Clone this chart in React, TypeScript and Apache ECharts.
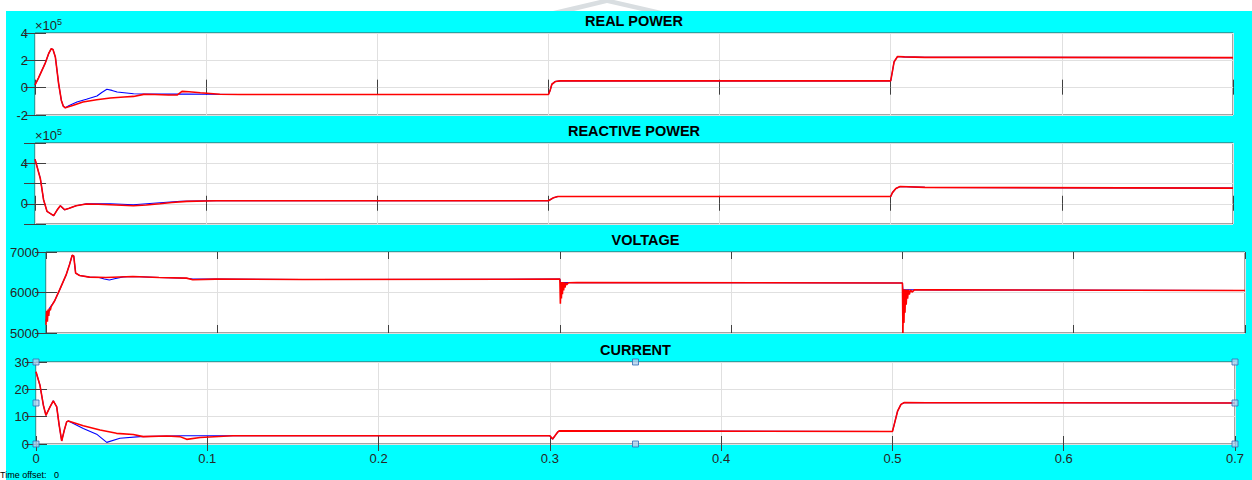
import React, { useEffect, useRef } from "react";
import * as echarts from "echarts";

// ---------- DATA ----------
const titles = ["REAL POWER", "REACTIVE POWER", "VOLTAGE", "CURRENT"];
const timeMin = 0;
const timeMax = 0.7;
const timeStep = 0.1;

// Real power, in units of 1e5 W
const realPowerRed: [number, number][] = [
  [0, 0.2], [0.002, 0.7], [0.004, 1.25], [0.006, 1.8], [0.008, 2.5], [0.0095, 2.85], [0.0105, 2.8],
  [0.0119, 2.24], [0.0138, 0.3], [0.0154, -0.93], [0.0165, -1.35], [0.0177, -1.47], [0.022, -1.3],
  [0.028, -1.05], [0.036, -0.88], [0.044, -0.76], [0.052, -0.68], [0.0576, -0.64], [0.0635, -0.49],
  [0.07, -0.5], [0.078, -0.54], [0.083, -0.54], [0.0859, -0.27], [0.09, -0.3], [0.0966, -0.37],
  [0.108, -0.48], [0.12, -0.5], [0.3, -0.5], [0.301, -0.2], [0.302, 0.25], [0.304, 0.45],
  [0.307, 0.5], [0.5, 0.5], [0.501, 1.2], [0.502, 1.9], [0.504, 2.28], [0.508, 2.25], [0.52, 2.22],
  [0.7, 2.2],
];
const realPowerBlue: [number, number][] = [
  [0, 0.2], [0.002, 0.7], [0.004, 1.25], [0.006, 1.8], [0.008, 2.5], [0.0095, 2.85], [0.0105, 2.8],
  [0.0119, 2.24], [0.0138, 0.3], [0.0154, -0.93], [0.0165, -1.35], [0.0177, -1.47], [0.02, -1.3],
  [0.0245, -1.05], [0.03, -0.85], [0.0362, -0.61], [0.039, -0.35], [0.042, -0.12], [0.045, -0.2],
  [0.048, -0.32], [0.0576, -0.44], [0.07, -0.47], [0.09, -0.47], [0.1, -0.48], [0.12, -0.5],
  [0.3, -0.5], [0.301, -0.2], [0.302, 0.25], [0.304, 0.45], [0.307, 0.5], [0.5, 0.5], [0.501, 1.2],
  [0.502, 1.9], [0.504, 2.28], [0.508, 2.25], [0.52, 2.22], [0.7, 2.2],
];

// Reactive power, in units of 1e5 var
const reactivePowerRed: [number, number][] = [
  [0, 4.4], [0.0031, 2.5], [0.005, 0.4], [0.007, -0.75], [0.0109, -1.18], [0.013, -0.6],
  [0.0148, -0.2], [0.0173, -0.59], [0.02, -0.45], [0.024, -0.2], [0.03, -0.03], [0.037, -0.05],
  [0.044, -0.1], [0.0575, -0.2], [0.065, -0.12], [0.073, 0.0], [0.08, 0.12], [0.0887, 0.23],
  [0.106, 0.3], [0.3, 0.3], [0.301, 0.4], [0.303, 0.6], [0.3055, 0.72], [0.5, 0.72], [0.501, 1.1],
  [0.503, 1.5], [0.5055, 1.7], [0.52, 1.62], [0.7, 1.54],
];
const reactivePowerBlue: [number, number][] = [
  [0, 4.4], [0.0031, 2.5], [0.005, 0.4], [0.007, -0.75], [0.0109, -1.18], [0.013, -0.6],
  [0.0148, -0.2], [0.0173, -0.59], [0.02, -0.45], [0.024, -0.2], [0.03, 0.0], [0.044, 0.0],
  [0.0575, -0.1], [0.073, 0.1], [0.085, 0.25], [0.1, 0.3], [0.3, 0.3], [0.301, 0.4], [0.303, 0.6],
  [0.3055, 0.72], [0.5, 0.72], [0.501, 1.1], [0.503, 1.5], [0.5055, 1.7], [0.52, 1.62], [0.7, 1.54],
];

// Voltage, V
const voltageRed: [number, number][] = [
  [0, 5200], [0.0004, 5550], [0.0008, 5280], [0.0012, 5580], [0.0016, 5420], [0.002, 5610],
  [0.0025, 5560], [0.003, 5650], [0.005, 5790], [0.008, 6070], [0.0118, 6440], [0.0138, 6700],
  [0.0153, 6920], [0.0162, 6900], [0.0173, 6480], [0.0196, 6420], [0.0254, 6380], [0.035, 6370],
  [0.0507, 6395], [0.066, 6370], [0.082, 6355], [0.0857, 6315], [0.099, 6330], [0.15, 6320],
  [0.3, 6330], [0.3003, 5720], [0.3006, 6260], [0.3009, 5850], [0.3012, 6260], [0.3015, 5960],
  [0.3018, 6255], [0.3022, 6050], [0.3026, 6250], [0.303, 6120], [0.3035, 6245], [0.304, 6190],
  [0.305, 6240], [0.31, 6245], [0.5, 6235], [0.5003, 5000], [0.5006, 6080], [0.5009, 5250],
  [0.5012, 6080], [0.5015, 5500], [0.5018, 6075], [0.5022, 5700], [0.5026, 6070], [0.503, 5850],
  [0.5035, 6070], [0.504, 5950], [0.5048, 6065], [0.5056, 6010], [0.507, 6065], [0.52, 6065],
  [0.7, 6050],
];
const voltageBlue: [number, number][] = [
  [0, 5300], [0.002, 5610], [0.005, 5790], [0.008, 6070], [0.0118, 6440], [0.0138, 6700],
  [0.0153, 6920], [0.0162, 6900], [0.0173, 6480], [0.0196, 6420], [0.0254, 6380], [0.031, 6370],
  [0.034, 6335], [0.037, 6310], [0.04, 6340], [0.045, 6385], [0.0507, 6395], [0.066, 6370],
  [0.082, 6350], [0.0857, 6335], [0.099, 6330], [0.15, 6320], [0.3, 6330], [0.3003, 6250],
  [0.31, 6245], [0.5, 6235], [0.5003, 6070], [0.52, 6065], [0.7, 6050],
];

// Current, A
const currentRed: [number, number][] = [
  [0, 26.4], [0.0023, 21.5], [0.0043, 14.2], [0.0058, 10.5], [0.0082, 13.6], [0.0101, 15.8],
  [0.0121, 13.6], [0.0135, 7], [0.015, 1.1], [0.0165, 5], [0.0179, 8.1], [0.0189, 8.4],
  [0.0276, 6.7], [0.0374, 5.1], [0.047, 3.9], [0.0568, 3.5], [0.0626, 2.7], [0.0763, 2.9],
  [0.084, 2.7], [0.088, 1.7], [0.0958, 2.4], [0.115, 3.0], [0.3, 3.0], [0.3016, 1.8], [0.303, 3.0],
  [0.3045, 4.3], [0.3055, 4.8], [0.5, 4.6], [0.501, 7], [0.503, 12], [0.505, 14.5], [0.507, 15.2],
  [0.52, 15.1], [0.7, 15.0],
];
const currentBlue: [number, number][] = [
  [0, 26.4], [0.0023, 21.5], [0.0043, 14.2], [0.0058, 10.5], [0.0082, 13.6], [0.0101, 15.8],
  [0.0121, 13.6], [0.0135, 7], [0.015, 1.1], [0.0165, 5], [0.0179, 8.1], [0.0189, 8.4],
  [0.0276, 5.7], [0.0354, 3.6], [0.0413, 0.6], [0.049, 2.1], [0.0607, 2.7], [0.086, 3.0],
  [0.1, 3.0], [0.115, 3.0], [0.3, 3.0], [0.3016, 1.8], [0.303, 3.0], [0.3045, 4.3], [0.3055, 4.8],
  [0.5, 4.6], [0.501, 7], [0.503, 12], [0.505, 14.5], [0.507, 15.2], [0.52, 15.1], [0.7, 15.0],
];

// Y axis ranges
const yMins = [-2, -2, 5000, 0];
const yMaxs = [4, 6, 7000, 30];
const yIntervals = [2, 2, 1000, 10];
const reactiveLabelValues = [0, 4];

// Selection handles on the current axes
const handleTimes = [0, 0.35, 0.7];
const handleLevels = [0, 15, 30];

// ---------- LAYOUT ----------
const W = 1252;
const H = 480;
const grids = [
  { left: 35, top: 33, width: 1198, height: 82 },
  { left: 35, top: 143, width: 1198, height: 81 },
  { left: 46, top: 252, width: 1199, height: 81 },
  { left: 36, top: 362, width: 1199, height: 82 },
];
const titleY = [21, 131, 240, 350];
const FONT = "'Liberation Sans', Arial, Helvetica, sans-serif";
const TEXT = "#262626";
const TICK = "#404040";
const GRIDLINE = "#e0e0e0";

function fmtTime(v: number) {
  if (Math.abs(v) < 1e-9) return "0";
  return String(Math.round(v * 10) / 10);
}

export default function App() {
  const ref = useRef<HTMLDivElement>(null);

  useEffect(() => {
    if (!ref.current) return;
    const chart = echarts.init(ref.current, undefined, { renderer: "svg", width: W, height: H });

    const xAxes: any[] = [];
    const yAxes: any[] = [];
    const series: any[] = [];
    const redData = [realPowerRed, reactivePowerRed, voltageRed, currentRed];
    const blueData = [realPowerBlue, reactivePowerBlue, voltageBlue, currentBlue];

    grids.forEach((_, i) => {
      xAxes.push({
        type: "value",
        gridIndex: i,
        min: timeMin,
        max: timeMax,
        interval: timeStep,
        axisLine: { show: false },
        axisTick: { show: true, inside: true, length: 8, lineStyle: { color: TICK, width: 1 } },
        splitLine: { show: true, lineStyle: { color: GRIDLINE, width: 1 } },
        axisLabel: {
          show: i === 3,
          formatter: fmtTime,
          fontSize: 13,
          color: TEXT,
          fontFamily: FONT,
          margin: 8,
        },
      });
      xAxes.push({
        type: "value",
        gridIndex: i,
        position: "top",
        min: timeMin,
        max: timeMax,
        interval: timeStep,
        axisLine: { show: false },
        axisTick: { show: true, inside: true, length: 7, lineStyle: { color: TICK, width: 1 } },
        splitLine: { show: false },
        axisLabel: { show: false },
      });
      const hasExp = i < 2;
      yAxes.push({
        type: "value",
        gridIndex: i,
        min: yMins[i],
        max: yMaxs[i],
        interval: yIntervals[i],
        name: hasExp ? "{a|×10}{b|5}" : "",
        nameLocation: "end",
        nameGap: 1,
        nameTextStyle: {
          color: TEXT,
          fontFamily: FONT,
          align: "left",
          verticalAlign: "bottom",
          rich: {
            a: { fontSize: 13, lineHeight: 15, verticalAlign: "bottom", color: TEXT, fontFamily: FONT },
            b: { fontSize: 9, lineHeight: 6, verticalAlign: "top", color: TEXT, fontFamily: FONT },
          },
        },
        axisLine: { show: false },
        axisTick: { show: true, inside: true, length: 11, lineStyle: { color: TICK, width: 1 } },
        splitLine: { show: true, lineStyle: { color: GRIDLINE, width: 1 } },
        axisLabel: {
          fontSize: 13,
          color: TEXT,
          fontFamily: FONT,
          margin: 7,
          formatter: (v: number) =>
            i === 1 ? (reactiveLabelValues.includes(v) ? String(v) : "") : String(v),
        },
      });
      yAxes.push({
        type: "value",
        gridIndex: i,
        position: "right",
        min: yMins[i],
        max: yMaxs[i],
        interval: yIntervals[i],
        axisLine: { show: false },
        axisTick: { show: true, inside: true, length: 11, lineStyle: { color: TICK, width: 1 } },
        splitLine: { show: false },
        axisLabel: { show: false },
      });

      series.push({
        type: "line",
        xAxisIndex: 2 * i,
        yAxisIndex: 2 * i,
        data: blueData[i],
        showSymbol: false,
        lineStyle: { color: "#0000ff", width: 1.1 },
        z: 2,
      });
      series.push({
        type: "line",
        xAxisIndex: 2 * i,
        yAxisIndex: 2 * i,
        data: redData[i],
        showSymbol: false,
        lineStyle: { color: "#ff0000", width: 1.6 },
        z: 3,
      });
    });

    const handles: [number, number][] = [];
    handleTimes.forEach((t, ti) =>
      handleLevels.forEach((lv, li) => {
        if (ti === 1 && li === 1) return;
        handles.push([t, lv]);
      })
    );
    series.push({
      type: "scatter",
      xAxisIndex: 6,
      yAxisIndex: 6,
      data: handles,
      symbol: "rect",
      symbolSize: 6,
      clip: false,
      itemStyle: { color: "#b3d1ee", borderColor: "#2f6db5", borderWidth: 1 },
      z: 10,
    });

    const graphics: any[] = titles.map((t, i) => ({
      type: "text",
      x: grids[i].left + grids[i].width / 2,
      y: titleY[i],
      style: {
        text: t,
        fill: "#000",
        font: `bold 14.5px ${FONT}`,
        align: "center",
        verticalAlign: "middle",
      },
    }));
    graphics.push({
      type: "text",
      x: 0,
      y: 475,
      style: {
        text: "Time offset:   0",
        fill: "#000",
        font: `9px ${FONT}`,
        align: "left",
        verticalAlign: "middle",
      },
    });
    graphics.push({
      type: "polygon",
      shape: {
        points: [
          [553, 11], [600, 0], [614, 0], [662, 11], [642, 11], [607, 3], [574, 11],
        ],
      },
      style: { fill: "#d9dee1" },
    });

    chart.setOption({
      animation: false,
      backgroundColor: "transparent",
      grid: grids.map((g) => ({
        ...g,
        show: true,
        backgroundColor: "#ffffff",
        borderColor: "#4a4a4a",
        borderWidth: 1,
        containLabel: false,
      })),
      xAxis: xAxes,
      yAxis: yAxes,
      series,
      graphic: graphics,
    });

    return () => chart.dispose();
  }, []);

  return (
    <div
      style={{
        position: "fixed",
        left: 0,
        top: 0,
        width: W,
        height: H,
        background: "#ffffff",
        overflow: "hidden",
      }}
    >
      <div
        style={{
          position: "absolute",
          left: 6,
          top: 11,
          width: W - 6,
          height: H - 11,
          background: "#00ffff",
        }}
      />
      <div ref={ref} style={{ position: "absolute", left: 0, top: 0, width: W, height: H }} />
    </div>
  );
}
